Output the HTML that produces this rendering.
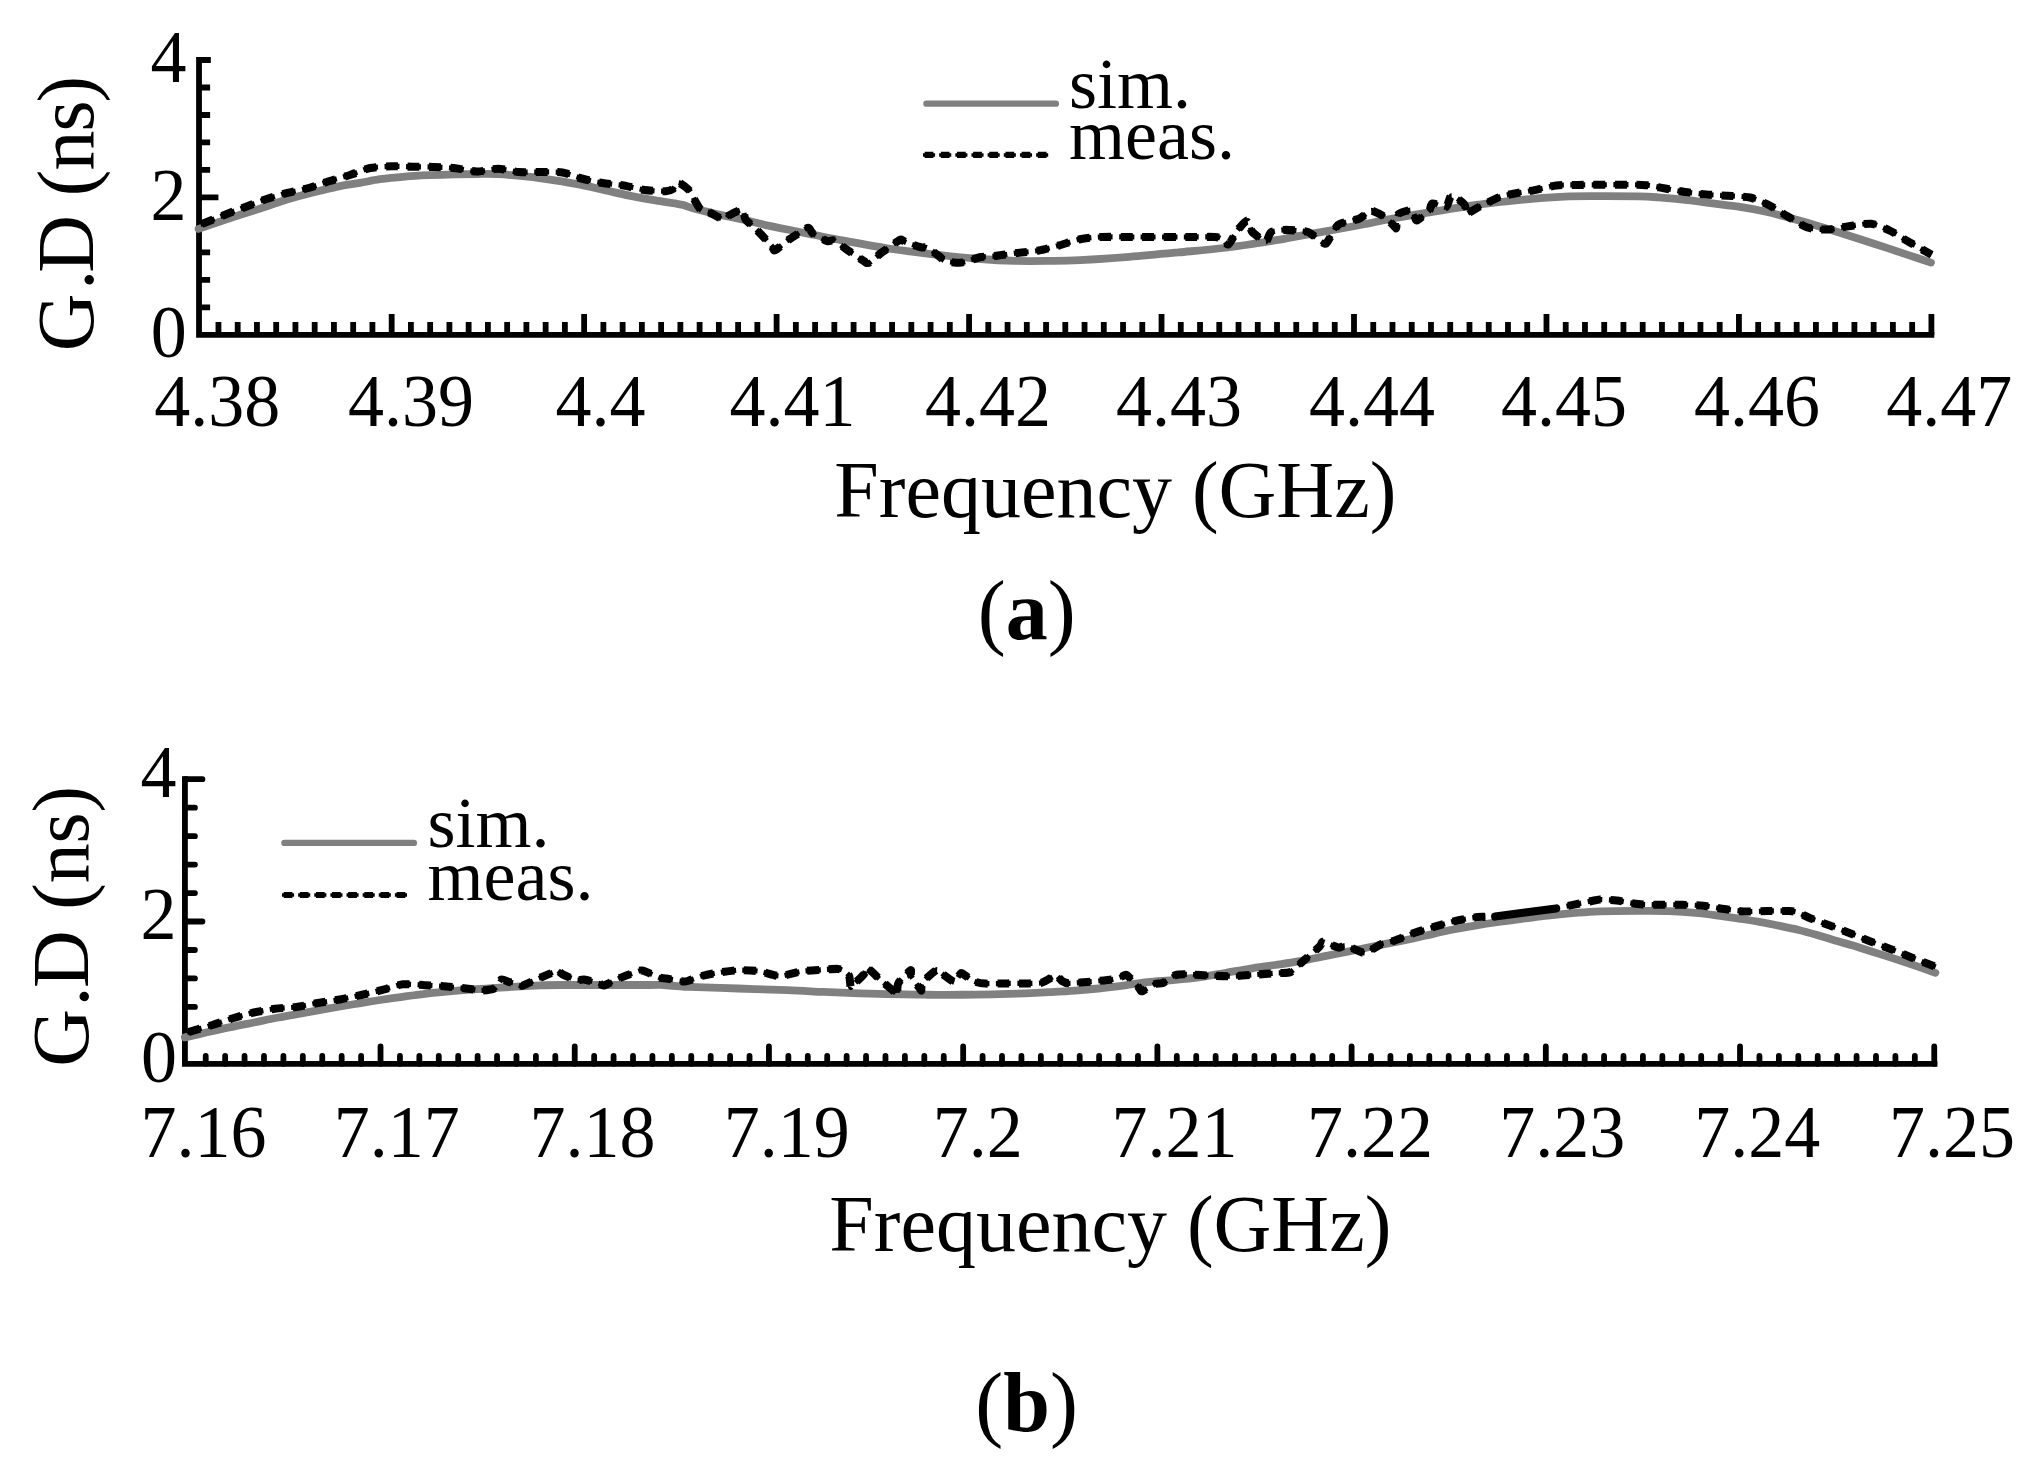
<!DOCTYPE html>
<html lang="en"><head><meta charset="utf-8"><title>Group delay: simulated vs measured</title>
<style>
html,body{margin:0;padding:0;background:#fff;}
body{width:2033px;height:1459px;overflow:hidden;}
svg{display:block;}
text{font-family:"Liberation Serif",serif;fill:#000;}
.t72{font-size:72px;}
.t80{font-size:80px;}
.t84{font-size:84px;}
.gray{stroke:#808080;stroke-width:7.8;fill:none;stroke-linecap:round;stroke-linejoin:round;}
.dotb{stroke:#000;fill:none;stroke-linecap:butt;stroke-linejoin:round;}
.dotsolid{stroke:#000;stroke-width:8.05;fill:none;stroke-linecap:round;stroke-linejoin:round;}
.lgray{stroke:#808080;stroke-width:6.3;fill:none;stroke-linecap:round;}
</style></head><body>
<svg width="2033" height="1459" viewBox="0 0 2033 1459">
<rect x="0" y="0" width="2033" height="1459" fill="#fff"/>
<g>
<path d="M199.02,57.10 V334.90 H1934.30" stroke="#000" stroke-width="5.80" fill="none" stroke-linejoin="miter"/>
<path d="M218.45,334.90 V322.00 M237.69,334.90 V322.00 M256.94,334.90 V322.00 M276.19,334.90 V322.00 M295.43,334.90 V322.00 M314.68,334.90 V322.00 M333.93,334.90 V322.00 M353.17,334.90 V322.00 M372.42,334.90 V322.00 M391.67,334.90 V313.95 M410.91,334.90 V322.00 M430.16,334.90 V322.00 M449.41,334.90 V322.00 M468.65,334.90 V322.00 M487.90,334.90 V322.00 M507.15,334.90 V322.00 M526.39,334.90 V322.00 M545.64,334.90 V322.00 M564.89,334.90 V322.00 M584.13,334.90 V313.95 M603.38,334.90 V322.00 M622.63,334.90 V322.00 M641.87,334.90 V322.00 M661.12,334.90 V322.00 M680.37,334.90 V322.00 M699.61,334.90 V322.00 M718.86,334.90 V322.00 M738.11,334.90 V322.00 M757.35,334.90 V322.00 M776.60,334.90 V313.95 M795.85,334.90 V322.00 M815.09,334.90 V322.00 M834.34,334.90 V322.00 M853.59,334.90 V322.00 M872.83,334.90 V322.00 M892.08,334.90 V322.00 M911.33,334.90 V322.00 M930.57,334.90 V322.00 M949.82,334.90 V322.00 M969.07,334.90 V313.95 M988.31,334.90 V322.00 M1007.56,334.90 V322.00 M1026.81,334.90 V322.00 M1046.05,334.90 V322.00 M1065.30,334.90 V322.00 M1084.55,334.90 V322.00 M1103.79,334.90 V322.00 M1123.04,334.90 V322.00 M1142.29,334.90 V322.00 M1161.53,334.90 V313.95 M1180.78,334.90 V322.00 M1200.03,334.90 V322.00 M1219.27,334.90 V322.00 M1238.52,334.90 V322.00 M1257.77,334.90 V322.00 M1277.01,334.90 V322.00 M1296.26,334.90 V322.00 M1315.51,334.90 V322.00 M1334.75,334.90 V322.00 M1354.00,334.90 V313.95 M1373.25,334.90 V322.00 M1392.49,334.90 V322.00 M1411.74,334.90 V322.00 M1430.99,334.90 V322.00 M1450.23,334.90 V322.00 M1469.48,334.90 V322.00 M1488.73,334.90 V322.00 M1507.97,334.90 V322.00 M1527.22,334.90 V322.00 M1546.47,334.90 V313.95 M1565.71,334.90 V322.00 M1584.96,334.90 V322.00 M1604.21,334.90 V322.00 M1623.45,334.90 V322.00 M1642.70,334.90 V322.00 M1661.95,334.90 V322.00 M1681.19,334.90 V322.00 M1700.44,334.90 V322.00 M1719.69,334.90 V322.00 M1738.93,334.90 V313.95 M1758.18,334.90 V322.00 M1777.43,334.90 V322.00 M1796.67,334.90 V322.00 M1815.92,334.90 V322.00 M1835.17,334.90 V322.00 M1854.41,334.90 V322.00 M1873.66,334.90 V322.00 M1892.91,334.90 V322.00 M1912.15,334.90 V322.00 M1931.40,334.90 V313.95" stroke="#000" stroke-width="5.80" fill="none" stroke-linecap="butt"/>
<path d="M199.02,307.41 H210.12 M199.02,279.92 H210.12 M199.02,252.43 H210.12 M199.02,224.94 H210.12 M199.02,197.45 H218.42 M199.02,169.96 H210.12 M199.02,142.47 H210.12 M199.02,114.98 H210.12 M199.02,87.49 H210.12 M199.02,60.00 H210.82" stroke="#000" stroke-width="5.80" fill="none" stroke-linecap="butt"/>
<path class="gray" d="M198.60,228.90 C202.17,227.68 213.07,223.95 220.00,221.60 C226.93,219.25 233.53,216.97 240.20,214.80 C246.87,212.63 253.37,210.77 260.00,208.60 C266.63,206.43 273.44,203.88 280.00,201.80 C286.56,199.72 292.68,197.93 299.35,196.10 C306.02,194.27 313.23,192.45 320.00,190.80 C326.77,189.15 333.33,187.52 340.00,186.20 C346.67,184.88 353.33,184.07 360.00,182.90 C366.67,181.73 372.50,180.25 380.00,179.20 C387.50,178.15 396.83,177.27 405.00,176.60 C413.17,175.93 420.67,175.58 429.00,175.20 C437.33,174.82 446.83,174.50 455.00,174.30 C463.17,174.10 470.83,174.02 478.00,174.00 C485.17,173.98 489.73,173.77 498.00,174.20 C506.27,174.63 518.10,175.57 527.60,176.60 C537.10,177.63 546.27,179.05 555.00,180.40 C563.73,181.75 571.73,183.08 580.00,184.70 C588.27,186.32 596.40,188.28 604.60,190.10 C612.80,191.92 621.00,193.92 629.20,195.60 C637.40,197.28 645.60,198.78 653.80,200.20 C662.00,201.62 673.37,203.25 678.40,204.10 C683.43,204.95 680.82,204.38 684.00,205.30 C687.18,206.22 691.07,207.92 697.50,209.60 C703.93,211.28 715.52,213.85 722.60,215.40 C729.68,216.95 733.70,217.50 740.00,218.90 C746.30,220.30 752.07,221.95 760.40,223.80 C768.73,225.65 776.73,227.30 790.00,230.00 C803.27,232.70 823.33,236.88 840.00,240.00 C856.67,243.12 873.33,246.25 890.00,248.75 C906.67,251.25 925.42,253.33 940.00,255.00 C954.58,256.67 965.00,257.77 977.50,258.75 C990.00,259.73 1002.92,260.54 1015.00,260.90 C1027.08,261.26 1039.17,261.03 1050.00,260.90 C1060.83,260.77 1066.80,260.78 1080.00,260.10 C1093.20,259.42 1112.80,258.08 1129.20,256.80 C1145.60,255.52 1162.00,253.95 1178.40,252.40 C1194.80,250.85 1210.67,249.63 1227.60,247.50 C1244.53,245.37 1269.60,241.25 1280.00,239.60 C1290.40,237.95 1280.00,239.41 1290.00,237.60 C1300.00,235.79 1327.12,231.08 1340.00,228.75 C1352.88,226.42 1358.97,225.22 1367.30,223.60 C1375.63,221.97 1377.88,221.17 1390.00,219.00 C1402.12,216.83 1423.33,213.23 1440.00,210.60 C1456.67,207.97 1473.33,205.28 1490.00,203.20 C1506.67,201.12 1526.75,199.25 1540.00,198.10 C1553.25,196.95 1558.83,196.63 1569.50,196.30 C1580.17,195.97 1592.52,196.10 1604.00,196.10 C1615.48,196.10 1629.40,196.09 1638.40,196.30 C1647.40,196.51 1649.80,196.72 1658.00,197.35 C1666.20,197.98 1678.52,199.09 1687.60,200.10 C1696.68,201.11 1703.77,202.27 1712.50,203.40 C1721.23,204.53 1731.25,205.55 1740.00,206.90 C1748.75,208.25 1756.80,209.70 1765.00,211.50 C1773.20,213.30 1781.20,215.53 1789.20,217.70 C1797.20,219.87 1804.80,222.07 1813.00,224.50 C1821.20,226.93 1830.15,229.72 1838.40,232.30 C1846.65,234.88 1854.30,237.37 1862.50,240.00 C1870.70,242.63 1879.68,245.50 1887.60,248.10 C1895.52,250.70 1902.77,253.18 1910.00,255.60 C1917.23,258.02 1927.50,261.43 1931.00,262.60"/>
<path class="dotb" style="stroke-width:5.2;stroke-dasharray:15.100 6.393" d="M200.50,224.50 C203.65,223.25 222.12,215.86 227.50,213.75 C232.88,211.64 242.05,208.12 246.60,206.40 C251.15,204.68 261.74,200.57 266.50,199.00 C271.26,197.43 282.49,194.18 287.40,192.90 C292.31,191.62 303.78,189.36 308.60,188.00 C313.42,186.64 323.92,182.77 328.75,181.25 C333.58,179.73 345.19,176.55 350.00,175.00 C354.81,173.45 365.19,169.02 370.00,168.00 C374.81,166.98 386.29,166.40 391.25,166.25 C396.21,166.10 407.54,166.66 412.50,166.75 C417.46,166.84 428.73,166.82 433.75,167.00 C438.77,167.18 450.45,167.71 455.50,168.25 C460.55,168.79 472.04,171.54 477.00,171.60 C481.96,171.66 493.13,168.70 498.00,168.75 C502.87,168.80 513.76,171.62 518.75,172.00 C523.74,172.38 535.65,171.94 540.75,172.00 C545.85,172.06 557.63,171.71 562.50,172.50 C567.37,173.29 577.83,177.53 582.50,178.75 C587.17,179.97 597.69,182.21 602.50,183.00 C607.31,183.79 618.85,184.68 623.75,185.50 C628.65,186.32 639.58,189.34 644.50,190.00 C649.42,190.66 662.57,191.32 665.90,191.20 C669.23,191.08 671.53,190.01 673.00,189.00 C674.47,187.99 676.52,182.27 678.50,182.50 C680.48,182.73 688.19,189.07 690.00,191.00 C691.81,192.93 692.72,196.78 694.00,199.00 C695.28,201.22 699.31,208.48 701.00,210.00 C702.69,211.52 706.17,211.01 708.50,212.00 C710.83,212.99 719.08,217.65 721.00,218.50 C722.92,219.35 724.02,219.69 725.00,219.30 C725.98,218.92 727.36,216.31 729.40,215.20 C731.44,214.09 740.62,209.32 742.50,209.80 C744.38,210.28 743.81,216.92 745.50,219.30 C747.19,221.68 754.00,227.17 757.00,230.20 C760.00,233.23 769.22,242.96 771.20,245.30 C773.18,247.65 773.38,249.82 774.00,250.30 C774.62,250.78 774.87,250.58 776.50,249.40 C778.13,248.22 784.52,242.64 788.00,240.20 C791.48,237.76 803.79,229.85 806.30,228.50 C808.81,227.15 808.72,228.00 809.50,228.60 C810.28,229.19 810.92,232.14 813.00,233.60 C815.08,235.06 824.85,240.31 827.30,241.10 C829.75,241.89 831.76,239.43 834.00,240.40 C836.24,241.37 843.00,246.97 846.50,249.40 C850.00,251.83 861.61,259.61 864.00,261.20 C866.39,262.79 866.25,262.91 867.00,263.00 C867.75,263.09 868.64,263.25 870.40,262.00 C872.16,260.75 878.74,254.84 882.10,252.30 C885.46,249.76 896.82,241.60 899.20,240.20 C901.58,238.80 901.62,240.00 902.50,240.30 C903.38,240.60 904.52,241.98 906.70,242.80 C908.88,243.62 918.76,246.72 921.20,247.30 C923.64,247.88 925.39,246.67 927.60,247.80 C929.81,248.93 938.05,255.44 940.10,257.00 C942.15,258.56 942.95,260.52 945.20,261.20 C947.45,261.88 956.87,262.80 959.40,262.80 C961.93,262.80 964.37,261.88 966.90,261.20 C969.43,260.52 977.88,257.59 981.10,257.00 C984.32,256.41 990.40,256.57 994.50,256.10 C998.60,255.63 1011.09,253.65 1016.25,253.00 C1021.41,252.35 1033.79,251.38 1038.75,250.50 C1043.71,249.62 1053.94,246.81 1058.75,245.50 C1063.56,244.19 1075.04,240.24 1080.00,239.25 C1084.96,238.26 1094.25,237.26 1101.25,237.00 C1108.25,236.74 1129.65,237.00 1140.00,237.00 C1150.35,237.00 1181.25,237.00 1190.00,237.00 C1198.75,237.00 1211.27,236.77 1215.00,237.00 C1218.73,237.23 1220.42,238.14 1222.00,239.00 C1223.58,239.86 1226.68,245.43 1228.50,244.40 C1230.32,243.37 1235.36,232.99 1237.60,230.20 C1239.84,227.41 1246.00,220.30 1247.70,220.50 C1249.40,220.70 1250.25,229.50 1252.20,231.90 C1254.15,234.30 1262.67,240.10 1264.40,241.10 C1266.13,242.10 1266.22,241.54 1267.00,240.50 C1267.78,239.46 1269.06,233.44 1271.10,232.20 C1273.14,230.96 1281.28,230.08 1284.50,229.90 C1287.72,229.72 1295.96,230.45 1298.70,230.70 C1301.44,230.94 1306.48,231.57 1308.00,232.00 C1309.52,232.43 1309.76,233.05 1311.70,234.40 C1313.64,235.75 1322.71,242.82 1324.60,243.60 C1326.49,244.38 1326.59,242.95 1327.90,241.10 C1329.21,239.25 1334.42,229.71 1335.80,227.70 C1337.18,225.69 1337.69,224.78 1339.70,223.90 C1341.71,223.03 1350.67,220.83 1353.00,220.20 C1355.33,219.57 1357.74,219.57 1359.70,218.50 C1361.66,217.43 1368.25,211.88 1369.80,211.00 C1371.35,210.12 1371.25,210.30 1373.00,211.00 C1374.75,211.70 1382.24,215.15 1384.80,217.00 C1387.36,218.85 1393.56,225.68 1394.90,226.90 C1396.24,228.12 1395.97,228.91 1396.30,227.50 C1396.63,226.09 1395.91,216.83 1397.70,214.80 C1399.49,212.77 1409.46,209.49 1411.60,210.10 C1413.73,210.71 1415.16,218.93 1416.00,220.00 C1416.84,221.07 1417.27,220.35 1418.80,219.30 C1420.33,218.25 1427.50,212.84 1429.10,211.00 C1430.70,209.16 1430.53,203.96 1432.50,203.50 C1434.47,203.04 1443.78,208.01 1446.00,207.10 C1448.22,206.19 1449.37,196.03 1451.50,195.70 C1453.63,195.37 1462.57,202.17 1464.30,204.30 C1466.03,206.44 1465.91,212.93 1466.30,214.00 C1466.68,215.07 1465.92,214.43 1467.60,213.50 C1469.28,212.57 1476.90,207.95 1480.70,206.00 C1484.50,204.05 1496.36,198.24 1500.20,196.80 C1504.04,195.37 1509.60,194.48 1513.60,193.70 C1517.60,192.92 1529.52,191.06 1534.50,190.10 C1539.48,189.14 1551.23,186.11 1556.25,185.50 C1561.27,184.89 1567.44,184.97 1577.50,184.90 C1587.56,184.83 1632.44,184.51 1642.50,184.90 C1652.56,185.29 1658.79,187.42 1663.75,188.25 C1668.71,189.08 1680.04,191.27 1685.00,192.00 C1689.96,192.73 1701.29,194.06 1706.25,194.50 C1711.21,194.94 1722.40,195.40 1727.50,195.75 C1732.60,196.10 1745.19,196.42 1750.00,197.50 C1754.81,198.58 1764.38,202.81 1768.75,205.00 C1773.12,207.19 1782.98,213.62 1787.50,216.25 C1792.02,218.88 1802.83,225.95 1807.50,227.50 C1812.17,229.05 1822.69,229.65 1827.50,229.50 C1832.31,229.35 1843.65,226.92 1848.75,226.25 C1853.85,225.58 1866.38,223.20 1871.25,223.75 C1876.12,224.30 1886.10,228.87 1890.50,231.00 C1894.90,233.13 1904.20,239.22 1909.00,242.00 C1913.80,244.78 1928.96,253.31 1931.60,254.80"/>
<path class="dotb" style="stroke-width:8.05;stroke-dasharray:11.900 9.593;stroke-dashoffset:-1.600" d="M200.50,224.50 C203.65,223.25 222.12,215.86 227.50,213.75 C232.88,211.64 242.05,208.12 246.60,206.40 C251.15,204.68 261.74,200.57 266.50,199.00 C271.26,197.43 282.49,194.18 287.40,192.90 C292.31,191.62 303.78,189.36 308.60,188.00 C313.42,186.64 323.92,182.77 328.75,181.25 C333.58,179.73 345.19,176.55 350.00,175.00 C354.81,173.45 365.19,169.02 370.00,168.00 C374.81,166.98 386.29,166.40 391.25,166.25 C396.21,166.10 407.54,166.66 412.50,166.75 C417.46,166.84 428.73,166.82 433.75,167.00 C438.77,167.18 450.45,167.71 455.50,168.25 C460.55,168.79 472.04,171.54 477.00,171.60 C481.96,171.66 493.13,168.70 498.00,168.75 C502.87,168.80 513.76,171.62 518.75,172.00 C523.74,172.38 535.65,171.94 540.75,172.00 C545.85,172.06 557.63,171.71 562.50,172.50 C567.37,173.29 577.83,177.53 582.50,178.75 C587.17,179.97 597.69,182.21 602.50,183.00 C607.31,183.79 618.85,184.68 623.75,185.50 C628.65,186.32 639.58,189.34 644.50,190.00 C649.42,190.66 662.57,191.32 665.90,191.20 C669.23,191.08 671.53,190.01 673.00,189.00 C674.47,187.99 676.52,182.27 678.50,182.50 C680.48,182.73 688.19,189.07 690.00,191.00 C691.81,192.93 692.72,196.78 694.00,199.00 C695.28,201.22 699.31,208.48 701.00,210.00 C702.69,211.52 706.17,211.01 708.50,212.00 C710.83,212.99 719.08,217.65 721.00,218.50 C722.92,219.35 724.02,219.69 725.00,219.30 C725.98,218.92 727.36,216.31 729.40,215.20 C731.44,214.09 740.62,209.32 742.50,209.80 C744.38,210.28 743.81,216.92 745.50,219.30 C747.19,221.68 754.00,227.17 757.00,230.20 C760.00,233.23 769.22,242.96 771.20,245.30 C773.18,247.65 773.38,249.82 774.00,250.30 C774.62,250.78 774.87,250.58 776.50,249.40 C778.13,248.22 784.52,242.64 788.00,240.20 C791.48,237.76 803.79,229.85 806.30,228.50 C808.81,227.15 808.72,228.00 809.50,228.60 C810.28,229.19 810.92,232.14 813.00,233.60 C815.08,235.06 824.85,240.31 827.30,241.10 C829.75,241.89 831.76,239.43 834.00,240.40 C836.24,241.37 843.00,246.97 846.50,249.40 C850.00,251.83 861.61,259.61 864.00,261.20 C866.39,262.79 866.25,262.91 867.00,263.00 C867.75,263.09 868.64,263.25 870.40,262.00 C872.16,260.75 878.74,254.84 882.10,252.30 C885.46,249.76 896.82,241.60 899.20,240.20 C901.58,238.80 901.62,240.00 902.50,240.30 C903.38,240.60 904.52,241.98 906.70,242.80 C908.88,243.62 918.76,246.72 921.20,247.30 C923.64,247.88 925.39,246.67 927.60,247.80 C929.81,248.93 938.05,255.44 940.10,257.00 C942.15,258.56 942.95,260.52 945.20,261.20 C947.45,261.88 956.87,262.80 959.40,262.80 C961.93,262.80 964.37,261.88 966.90,261.20 C969.43,260.52 977.88,257.59 981.10,257.00 C984.32,256.41 990.40,256.57 994.50,256.10 C998.60,255.63 1011.09,253.65 1016.25,253.00 C1021.41,252.35 1033.79,251.38 1038.75,250.50 C1043.71,249.62 1053.94,246.81 1058.75,245.50 C1063.56,244.19 1075.04,240.24 1080.00,239.25 C1084.96,238.26 1094.25,237.26 1101.25,237.00 C1108.25,236.74 1129.65,237.00 1140.00,237.00 C1150.35,237.00 1181.25,237.00 1190.00,237.00 C1198.75,237.00 1211.27,236.77 1215.00,237.00 C1218.73,237.23 1220.42,238.14 1222.00,239.00 C1223.58,239.86 1226.68,245.43 1228.50,244.40 C1230.32,243.37 1235.36,232.99 1237.60,230.20 C1239.84,227.41 1246.00,220.30 1247.70,220.50 C1249.40,220.70 1250.25,229.50 1252.20,231.90 C1254.15,234.30 1262.67,240.10 1264.40,241.10 C1266.13,242.10 1266.22,241.54 1267.00,240.50 C1267.78,239.46 1269.06,233.44 1271.10,232.20 C1273.14,230.96 1281.28,230.08 1284.50,229.90 C1287.72,229.72 1295.96,230.45 1298.70,230.70 C1301.44,230.94 1306.48,231.57 1308.00,232.00 C1309.52,232.43 1309.76,233.05 1311.70,234.40 C1313.64,235.75 1322.71,242.82 1324.60,243.60 C1326.49,244.38 1326.59,242.95 1327.90,241.10 C1329.21,239.25 1334.42,229.71 1335.80,227.70 C1337.18,225.69 1337.69,224.78 1339.70,223.90 C1341.71,223.03 1350.67,220.83 1353.00,220.20 C1355.33,219.57 1357.74,219.57 1359.70,218.50 C1361.66,217.43 1368.25,211.88 1369.80,211.00 C1371.35,210.12 1371.25,210.30 1373.00,211.00 C1374.75,211.70 1382.24,215.15 1384.80,217.00 C1387.36,218.85 1393.56,225.68 1394.90,226.90 C1396.24,228.12 1395.97,228.91 1396.30,227.50 C1396.63,226.09 1395.91,216.83 1397.70,214.80 C1399.49,212.77 1409.46,209.49 1411.60,210.10 C1413.73,210.71 1415.16,218.93 1416.00,220.00 C1416.84,221.07 1417.27,220.35 1418.80,219.30 C1420.33,218.25 1427.50,212.84 1429.10,211.00 C1430.70,209.16 1430.53,203.96 1432.50,203.50 C1434.47,203.04 1443.78,208.01 1446.00,207.10 C1448.22,206.19 1449.37,196.03 1451.50,195.70 C1453.63,195.37 1462.57,202.17 1464.30,204.30 C1466.03,206.44 1465.91,212.93 1466.30,214.00 C1466.68,215.07 1465.92,214.43 1467.60,213.50 C1469.28,212.57 1476.90,207.95 1480.70,206.00 C1484.50,204.05 1496.36,198.24 1500.20,196.80 C1504.04,195.37 1509.60,194.48 1513.60,193.70 C1517.60,192.92 1529.52,191.06 1534.50,190.10 C1539.48,189.14 1551.23,186.11 1556.25,185.50 C1561.27,184.89 1567.44,184.97 1577.50,184.90 C1587.56,184.83 1632.44,184.51 1642.50,184.90 C1652.56,185.29 1658.79,187.42 1663.75,188.25 C1668.71,189.08 1680.04,191.27 1685.00,192.00 C1689.96,192.73 1701.29,194.06 1706.25,194.50 C1711.21,194.94 1722.40,195.40 1727.50,195.75 C1732.60,196.10 1745.19,196.42 1750.00,197.50 C1754.81,198.58 1764.38,202.81 1768.75,205.00 C1773.12,207.19 1782.98,213.62 1787.50,216.25 C1792.02,218.88 1802.83,225.95 1807.50,227.50 C1812.17,229.05 1822.69,229.65 1827.50,229.50 C1832.31,229.35 1843.65,226.92 1848.75,226.25 C1853.85,225.58 1866.38,223.20 1871.25,223.75 C1876.12,224.30 1886.10,228.87 1890.50,231.00 C1894.90,233.13 1904.20,239.22 1909.00,242.00 C1913.80,244.78 1928.96,253.31 1931.60,254.80"/>
<text class="t72" transform="translate(168.40,81.70) scale(1,1.040)" text-anchor="middle">4</text>
<text class="t72" transform="translate(168.40,219.90) scale(1,1.040)" text-anchor="middle">2</text>
<text class="t72" transform="translate(168.80,356.70) scale(1,1.040)" text-anchor="middle">0</text>
<text class="t72" transform="translate(217.20,425.60) scale(1,1.040)" text-anchor="middle">4.38</text>
<text class="t72" transform="translate(411.00,425.60) scale(1,1.040)" text-anchor="middle">4.39</text>
<text class="t72" transform="translate(600.40,425.60) scale(1,1.040)" text-anchor="middle">4.4</text>
<text class="t72" transform="translate(792.50,425.60) scale(1,1.040)" text-anchor="middle">4.41</text>
<text class="t72" transform="translate(988.00,425.60) scale(1,1.040)" text-anchor="middle">4.42</text>
<text class="t72" transform="translate(1179.00,425.60) scale(1,1.040)" text-anchor="middle">4.43</text>
<text class="t72" transform="translate(1372.00,425.60) scale(1,1.040)" text-anchor="middle">4.44</text>
<text class="t72" transform="translate(1564.00,425.60) scale(1,1.040)" text-anchor="middle">4.45</text>
<text class="t72" transform="translate(1757.00,425.60) scale(1,1.040)" text-anchor="middle">4.46</text>
<text class="t72" transform="translate(1949.20,425.60) scale(1,1.040)" text-anchor="middle">4.47</text>
<text class="t80" x="1115.30" y="516.50" text-anchor="middle">Frequency (GHz)</text>
<text class="t80" transform="translate(92.50,213.70) rotate(-90)" x="-137.46 -76.00 -59.10 -1.94 17.56 43.20 82.20 111.32">G.D (ns)</text>
<path class="lgray" d="M926.40,103.70 H1055.90"/>
<path class="dotb" style="stroke-width:3.6;stroke-dasharray:12.100 4.057" d="M923.00,154.95 H1048.20"/>
<path class="dotb" style="stroke-width:6.2;stroke-dasharray:8.700 7.457;stroke-dashoffset:-1.700" d="M923.00,154.95 H1048.20"/>
<text class="t72" x="1069.00" y="107.90">sim.</text>
<text class="t72" x="1069.00" y="159.00">meas.</text>
<text class="t84" x="1026.70" y="639.40" text-anchor="middle">(<tspan font-weight="bold">a</tspan>)</text>
</g>
<g>
<path d="M184.93,776.30 V1063.83 H1937.40" stroke="#000" stroke-width="5.80" fill="none" stroke-linejoin="miter"/>
<path d="M205.72,1063.83 V1055.93 M225.14,1063.83 V1055.93 M244.56,1063.83 V1055.93 M263.99,1063.83 V1055.93 M283.41,1063.83 V1055.93 M302.83,1063.83 V1055.93 M322.25,1063.83 V1055.93 M341.67,1063.83 V1055.93 M361.10,1063.83 V1055.93 M380.52,1063.83 V1046.43 M399.94,1063.83 V1055.93 M419.36,1063.83 V1055.93 M438.78,1063.83 V1055.93 M458.20,1063.83 V1055.93 M477.62,1063.83 V1055.93 M497.05,1063.83 V1055.93 M516.47,1063.83 V1055.93 M535.89,1063.83 V1055.93 M555.31,1063.83 V1055.93 M574.73,1063.83 V1046.43 M594.15,1063.83 V1055.93 M613.58,1063.83 V1055.93 M633.00,1063.83 V1055.93 M652.42,1063.83 V1055.93 M671.84,1063.83 V1055.93 M691.26,1063.83 V1055.93 M710.68,1063.83 V1055.93 M730.11,1063.83 V1055.93 M749.53,1063.83 V1055.93 M768.95,1063.83 V1046.43 M788.37,1063.83 V1055.93 M807.79,1063.83 V1055.93 M827.21,1063.83 V1055.93 M846.64,1063.83 V1055.93 M866.06,1063.83 V1055.93 M885.48,1063.83 V1055.93 M904.90,1063.83 V1055.93 M924.32,1063.83 V1055.93 M943.75,1063.83 V1055.93 M963.17,1063.83 V1046.43 M982.59,1063.83 V1055.93 M1002.01,1063.83 V1055.93 M1021.43,1063.83 V1055.93 M1040.85,1063.83 V1055.93 M1060.28,1063.83 V1055.93 M1079.70,1063.83 V1055.93 M1099.12,1063.83 V1055.93 M1118.54,1063.83 V1055.93 M1137.96,1063.83 V1055.93 M1157.38,1063.83 V1046.43 M1176.81,1063.83 V1055.93 M1196.23,1063.83 V1055.93 M1215.65,1063.83 V1055.93 M1235.07,1063.83 V1055.93 M1254.49,1063.83 V1055.93 M1273.91,1063.83 V1055.93 M1293.34,1063.83 V1055.93 M1312.76,1063.83 V1055.93 M1332.18,1063.83 V1055.93 M1351.60,1063.83 V1046.43 M1371.02,1063.83 V1055.93 M1390.44,1063.83 V1055.93 M1409.87,1063.83 V1055.93 M1429.29,1063.83 V1055.93 M1448.71,1063.83 V1055.93 M1468.13,1063.83 V1055.93 M1487.55,1063.83 V1055.93 M1506.97,1063.83 V1055.93 M1526.39,1063.83 V1055.93 M1545.82,1063.83 V1046.43 M1565.24,1063.83 V1055.93 M1584.66,1063.83 V1055.93 M1604.08,1063.83 V1055.93 M1623.50,1063.83 V1055.93 M1642.92,1063.83 V1055.93 M1662.35,1063.83 V1055.93 M1681.77,1063.83 V1055.93 M1701.19,1063.83 V1055.93 M1720.61,1063.83 V1055.93 M1740.03,1063.83 V1046.43 M1759.45,1063.83 V1055.93 M1778.88,1063.83 V1055.93 M1798.30,1063.83 V1055.93 M1817.72,1063.83 V1055.93 M1837.14,1063.83 V1055.93 M1856.56,1063.83 V1055.93 M1875.98,1063.83 V1055.93 M1895.41,1063.83 V1055.93 M1914.83,1063.83 V1055.93 M1934.25,1063.83 V1046.43" stroke="#000" stroke-width="5.80" fill="none" stroke-linecap="round"/>
<path d="M184.93,1035.37 H194.93 M184.93,1006.90 H194.93 M184.93,978.44 H194.93 M184.93,949.98 H194.93 M184.93,921.51 H202.43 M184.93,893.05 H194.93 M184.93,864.59 H194.93 M184.93,836.13 H194.93 M184.93,807.66 H194.93 M184.93,779.20 H202.43" stroke="#000" stroke-width="5.80" fill="none" stroke-linecap="round"/>
<path class="gray" d="M184.90,1037.40 C188.25,1036.63 197.62,1034.47 205.00,1032.80 C212.38,1031.13 220.87,1029.17 229.20,1027.40 C237.53,1025.63 246.80,1023.85 255.00,1022.20 C263.20,1020.55 270.90,1018.93 278.40,1017.50 C285.90,1016.07 291.80,1015.07 300.00,1013.60 C308.20,1012.13 318.43,1010.30 327.60,1008.70 C336.77,1007.10 346.27,1005.45 355.00,1004.00 C363.73,1002.55 368.33,1001.68 380.00,1000.00 C391.67,998.32 411.07,995.53 425.00,993.90 C438.93,992.27 451.10,991.25 463.60,990.20 C476.10,989.15 489.77,988.28 500.00,987.60 C510.23,986.92 518.23,986.48 525.00,986.10 C531.77,985.72 534.77,985.48 540.60,985.30 C546.43,985.12 550.10,985.05 560.00,985.00 C569.90,984.95 585.00,985.00 600.00,985.00 C615.00,985.00 639.33,985.00 650.00,985.00 C660.67,985.00 658.58,984.73 664.00,985.00 C669.42,985.27 678.35,986.28 682.50,986.60 C686.65,986.92 679.65,986.58 688.90,986.90 C698.15,987.22 721.62,987.95 738.00,988.50 C754.38,989.05 773.53,989.65 787.20,990.20 C800.87,990.75 812.95,991.48 820.00,991.80 C827.05,992.12 819.72,991.75 829.50,992.10 C839.28,992.45 862.78,993.47 878.70,993.90 C894.62,994.33 913.52,994.53 925.00,994.70 C936.48,994.87 939.27,994.92 947.60,994.90 C955.93,994.88 966.27,994.72 975.00,994.60 C983.73,994.48 991.67,994.40 1000.00,994.20 C1008.33,994.00 1016.80,993.73 1025.00,993.40 C1033.20,993.07 1040.87,992.67 1049.20,992.20 C1057.53,991.73 1066.80,991.22 1075.00,990.60 C1083.20,989.98 1090.07,989.38 1098.40,988.50 C1106.73,987.62 1116.80,986.37 1125.00,985.30 C1133.20,984.23 1139.27,983.00 1147.60,982.10 C1155.93,981.20 1166.27,980.73 1175.00,979.90 C1183.73,979.07 1191.67,978.25 1200.00,977.10 C1208.33,975.95 1216.80,974.38 1225.00,973.00 C1233.20,971.62 1240.87,970.13 1249.20,968.80 C1257.53,967.47 1266.80,966.23 1275.00,965.00 C1283.20,963.77 1290.07,962.87 1298.40,961.40 C1306.73,959.93 1316.80,957.83 1325.00,956.20 C1333.20,954.57 1339.27,953.30 1347.60,951.60 C1355.93,949.90 1368.45,947.32 1375.00,946.00 C1381.55,944.68 1381.10,944.83 1386.90,943.70 C1392.70,942.57 1403.45,940.52 1409.80,939.20 C1416.15,937.88 1418.43,937.28 1425.00,935.80 C1431.57,934.32 1440.87,932.00 1449.20,930.30 C1457.53,928.60 1466.80,926.98 1475.00,925.60 C1483.20,924.22 1490.07,923.18 1498.40,922.00 C1506.73,920.82 1516.80,919.57 1525.00,918.50 C1533.20,917.43 1539.27,916.53 1547.60,915.60 C1555.93,914.67 1566.27,913.62 1575.00,912.90 C1583.73,912.18 1589.58,911.63 1600.00,911.30 C1610.42,910.97 1626.02,910.93 1637.50,910.90 C1648.98,910.87 1658.75,910.73 1668.90,911.10 C1679.05,911.47 1689.88,912.30 1698.40,913.10 C1706.92,913.90 1713.07,914.95 1720.00,915.90 C1726.93,916.85 1733.44,917.80 1740.00,918.80 C1746.56,919.80 1752.68,920.72 1759.35,921.90 C1766.02,923.08 1773.44,924.55 1780.00,925.90 C1786.56,927.25 1792.37,928.43 1798.70,930.00 C1805.03,931.57 1811.44,933.42 1818.00,935.30 C1824.56,937.18 1832.22,939.58 1838.05,941.30 C1843.88,943.02 1847.94,944.07 1853.00,945.60 C1858.06,947.13 1863.90,949.08 1868.40,950.50 C1872.90,951.92 1874.73,952.43 1880.00,954.10 C1885.27,955.77 1893.67,958.42 1900.00,960.50 C1906.33,962.58 1912.10,964.55 1918.00,966.60 C1923.90,968.65 1932.50,971.77 1935.40,972.80"/>
<path class="dotb" style="stroke-width:5.2;stroke-dasharray:15.100 6.386" d="M187.00,1032.50 C189.97,1031.62 207.05,1026.69 212.50,1025.00 C217.95,1023.31 228.94,1019.46 233.75,1018.00 C238.56,1016.54 248.94,1013.58 253.75,1012.50 C258.56,1011.42 270.04,1009.39 275.00,1008.75 C279.96,1008.11 291.23,1007.67 296.25,1007.00 C301.27,1006.33 312.90,1003.88 318.00,1003.00 C323.10,1002.12 334.95,1000.43 340.00,999.50 C345.05,998.57 356.20,996.14 361.25,995.00 C366.30,993.86 378.42,990.95 383.30,989.70 C388.18,988.45 398.26,984.82 403.10,984.30 C407.94,983.77 419.73,984.94 424.80,985.20 C429.88,985.46 441.55,986.08 446.60,986.50 C451.65,986.92 464.20,988.34 468.10,988.80 C472.00,989.25 477.56,990.28 480.00,990.40 C482.44,990.52 487.13,990.14 489.00,989.80 C490.87,989.46 494.54,988.70 496.00,987.50 C497.46,986.30 500.05,980.16 501.50,979.50 C502.95,978.84 506.77,981.34 508.40,981.80 C510.03,982.25 514.26,982.99 515.50,983.40 C516.74,983.81 518.12,985.05 519.00,985.30 C519.88,985.54 520.93,986.20 523.00,985.50 C525.07,984.80 534.41,980.31 536.70,979.30 C538.99,978.28 540.30,977.78 542.60,976.80 C544.90,975.82 554.60,971.62 556.40,970.90 C558.20,970.18 557.28,970.20 558.00,970.60 C558.72,971.00 560.44,973.19 562.60,974.30 C564.76,975.41 574.00,979.49 576.50,980.10 C579.00,980.71 581.46,979.14 584.00,979.50 C586.54,979.86 596.20,982.56 598.30,983.20 C600.40,983.84 601.22,984.77 602.00,985.00 C602.78,985.23 603.04,985.96 605.00,985.20 C606.96,984.44 616.47,979.57 618.80,978.50 C621.13,977.43 622.62,976.89 625.00,976.00 C627.38,975.11 637.22,971.53 639.20,970.90 C641.18,970.27 641.21,970.50 642.00,970.60 C642.79,970.71 643.95,970.98 646.00,971.80 C648.05,972.62 657.23,976.82 659.60,977.60 C661.97,978.38 663.84,978.10 666.30,978.50 C668.76,978.90 678.75,980.66 680.70,981.00 C682.65,981.34 682.18,981.40 683.00,981.40 C683.82,981.40 685.48,981.63 687.70,981.00 C689.92,980.37 698.71,976.93 702.00,976.00 C705.29,975.07 711.75,973.68 715.90,973.00 C720.05,972.32 732.58,970.41 737.60,970.20 C742.62,969.99 753.97,970.51 758.90,971.20 C763.83,971.89 774.99,976.08 779.90,976.10 C784.81,976.12 796.04,972.13 801.00,971.40 C805.96,970.66 818.10,970.09 822.40,969.80 C826.70,969.51 835.32,968.74 837.90,968.90 C840.48,969.06 843.18,970.35 844.50,971.20 C845.82,972.05 848.49,974.36 849.20,976.20 C849.91,978.04 850.27,985.88 850.60,987.00 C850.93,988.12 850.50,987.22 852.00,985.80 C853.50,984.38 861.80,976.95 863.50,974.80 C865.20,972.65 866.05,968.17 866.60,967.40 C867.15,966.63 866.56,966.71 868.20,968.20 C869.85,969.69 877.35,977.20 880.70,980.20 C884.05,983.20 894.96,992.22 896.90,993.90 C898.84,995.58 897.12,995.86 897.30,994.60 C897.47,993.34 896.86,985.95 898.40,983.10 C899.94,980.25 909.01,971.03 910.50,970.20 C911.99,969.37 910.03,973.75 911.20,976.00 C912.37,978.25 919.32,987.87 920.50,989.50 C921.68,991.13 921.07,990.86 921.30,990.00 C921.53,989.14 920.81,984.40 922.50,982.10 C924.19,979.80 934.01,971.71 935.80,970.30 C937.58,968.89 937.34,969.83 937.80,970.00 C938.25,970.17 937.99,970.49 939.70,971.80 C941.42,973.11 950.72,980.01 952.50,981.20 C954.28,982.39 954.08,982.86 955.00,982.00 C955.92,981.14 959.52,974.79 960.40,973.80 C961.27,972.81 960.96,972.64 962.50,973.50 C964.04,974.36 970.93,980.02 973.60,981.20 C976.27,982.38 981.46,983.34 985.40,983.60 C989.34,983.86 1002.31,983.42 1007.40,983.40 C1012.49,983.38 1025.20,983.45 1029.00,983.40 C1032.80,983.35 1038.33,983.16 1040.00,983.00 C1041.67,982.84 1041.54,982.86 1043.30,982.00 C1045.06,981.14 1053.50,976.35 1055.10,975.60 C1056.70,974.85 1056.19,974.97 1057.00,975.60 C1057.81,976.23 1060.61,980.10 1062.00,981.00 C1063.39,981.90 1065.58,983.22 1068.90,983.30 C1072.23,983.38 1085.46,982.14 1090.50,981.70 C1095.54,981.26 1108.42,980.11 1112.10,979.50 C1115.77,978.89 1120.27,977.01 1122.00,976.50 C1123.73,975.99 1125.01,973.89 1126.90,975.10 C1128.79,976.31 1136.56,985.04 1138.20,986.90 C1139.85,988.75 1140.43,990.54 1141.00,991.00 C1141.57,991.46 1141.42,991.63 1143.10,990.80 C1144.78,989.97 1153.10,984.81 1155.40,983.90 C1157.70,982.99 1160.44,984.03 1162.80,983.00 C1165.16,981.97 1172.50,976.10 1175.60,975.10 C1178.70,974.10 1185.24,974.33 1189.40,974.40 C1193.57,974.47 1206.21,975.49 1211.30,975.70 C1216.39,975.91 1227.95,976.32 1233.00,976.20 C1238.05,976.08 1249.52,975.07 1254.60,974.70 C1259.67,974.33 1272.37,973.29 1276.50,973.00 C1280.63,972.71 1286.93,973.55 1290.00,972.20 C1293.07,970.85 1300.85,963.06 1302.80,961.40 C1304.75,959.74 1304.75,959.73 1306.70,958.00 C1308.65,956.27 1317.71,948.43 1319.50,946.60 C1321.29,944.77 1321.43,942.81 1322.00,942.30 C1322.57,941.79 1322.45,941.58 1324.40,942.20 C1326.35,942.82 1336.23,947.20 1338.70,947.60 C1341.17,948.00 1343.13,945.13 1345.60,945.60 C1348.07,946.07 1357.75,950.74 1359.90,951.60 C1362.05,952.46 1363.15,952.89 1364.00,953.00 C1364.85,953.11 1365.22,953.53 1367.20,952.50 C1369.18,951.47 1377.84,945.58 1381.00,944.20 C1384.16,942.82 1390.38,942.03 1394.30,940.70 C1398.22,939.37 1409.78,934.47 1414.60,932.80 C1419.42,931.13 1430.70,927.81 1435.60,926.40 C1440.50,924.99 1451.69,921.79 1456.60,920.70 C1461.51,919.62 1474.35,917.54 1477.70,917.10 C1481.05,916.66 1484.41,916.92 1485.30,916.90"/>
<path class="dotb" style="stroke-width:8.05;stroke-dasharray:11.900 9.586;stroke-dashoffset:-1.600" d="M187.00,1032.50 C189.97,1031.62 207.05,1026.69 212.50,1025.00 C217.95,1023.31 228.94,1019.46 233.75,1018.00 C238.56,1016.54 248.94,1013.58 253.75,1012.50 C258.56,1011.42 270.04,1009.39 275.00,1008.75 C279.96,1008.11 291.23,1007.67 296.25,1007.00 C301.27,1006.33 312.90,1003.88 318.00,1003.00 C323.10,1002.12 334.95,1000.43 340.00,999.50 C345.05,998.57 356.20,996.14 361.25,995.00 C366.30,993.86 378.42,990.95 383.30,989.70 C388.18,988.45 398.26,984.82 403.10,984.30 C407.94,983.77 419.73,984.94 424.80,985.20 C429.88,985.46 441.55,986.08 446.60,986.50 C451.65,986.92 464.20,988.34 468.10,988.80 C472.00,989.25 477.56,990.28 480.00,990.40 C482.44,990.52 487.13,990.14 489.00,989.80 C490.87,989.46 494.54,988.70 496.00,987.50 C497.46,986.30 500.05,980.16 501.50,979.50 C502.95,978.84 506.77,981.34 508.40,981.80 C510.03,982.25 514.26,982.99 515.50,983.40 C516.74,983.81 518.12,985.05 519.00,985.30 C519.88,985.54 520.93,986.20 523.00,985.50 C525.07,984.80 534.41,980.31 536.70,979.30 C538.99,978.28 540.30,977.78 542.60,976.80 C544.90,975.82 554.60,971.62 556.40,970.90 C558.20,970.18 557.28,970.20 558.00,970.60 C558.72,971.00 560.44,973.19 562.60,974.30 C564.76,975.41 574.00,979.49 576.50,980.10 C579.00,980.71 581.46,979.14 584.00,979.50 C586.54,979.86 596.20,982.56 598.30,983.20 C600.40,983.84 601.22,984.77 602.00,985.00 C602.78,985.23 603.04,985.96 605.00,985.20 C606.96,984.44 616.47,979.57 618.80,978.50 C621.13,977.43 622.62,976.89 625.00,976.00 C627.38,975.11 637.22,971.53 639.20,970.90 C641.18,970.27 641.21,970.50 642.00,970.60 C642.79,970.71 643.95,970.98 646.00,971.80 C648.05,972.62 657.23,976.82 659.60,977.60 C661.97,978.38 663.84,978.10 666.30,978.50 C668.76,978.90 678.75,980.66 680.70,981.00 C682.65,981.34 682.18,981.40 683.00,981.40 C683.82,981.40 685.48,981.63 687.70,981.00 C689.92,980.37 698.71,976.93 702.00,976.00 C705.29,975.07 711.75,973.68 715.90,973.00 C720.05,972.32 732.58,970.41 737.60,970.20 C742.62,969.99 753.97,970.51 758.90,971.20 C763.83,971.89 774.99,976.08 779.90,976.10 C784.81,976.12 796.04,972.13 801.00,971.40 C805.96,970.66 818.10,970.09 822.40,969.80 C826.70,969.51 835.32,968.74 837.90,968.90 C840.48,969.06 843.18,970.35 844.50,971.20 C845.82,972.05 848.49,974.36 849.20,976.20 C849.91,978.04 850.27,985.88 850.60,987.00 C850.93,988.12 850.50,987.22 852.00,985.80 C853.50,984.38 861.80,976.95 863.50,974.80 C865.20,972.65 866.05,968.17 866.60,967.40 C867.15,966.63 866.56,966.71 868.20,968.20 C869.85,969.69 877.35,977.20 880.70,980.20 C884.05,983.20 894.96,992.22 896.90,993.90 C898.84,995.58 897.12,995.86 897.30,994.60 C897.47,993.34 896.86,985.95 898.40,983.10 C899.94,980.25 909.01,971.03 910.50,970.20 C911.99,969.37 910.03,973.75 911.20,976.00 C912.37,978.25 919.32,987.87 920.50,989.50 C921.68,991.13 921.07,990.86 921.30,990.00 C921.53,989.14 920.81,984.40 922.50,982.10 C924.19,979.80 934.01,971.71 935.80,970.30 C937.58,968.89 937.34,969.83 937.80,970.00 C938.25,970.17 937.99,970.49 939.70,971.80 C941.42,973.11 950.72,980.01 952.50,981.20 C954.28,982.39 954.08,982.86 955.00,982.00 C955.92,981.14 959.52,974.79 960.40,973.80 C961.27,972.81 960.96,972.64 962.50,973.50 C964.04,974.36 970.93,980.02 973.60,981.20 C976.27,982.38 981.46,983.34 985.40,983.60 C989.34,983.86 1002.31,983.42 1007.40,983.40 C1012.49,983.38 1025.20,983.45 1029.00,983.40 C1032.80,983.35 1038.33,983.16 1040.00,983.00 C1041.67,982.84 1041.54,982.86 1043.30,982.00 C1045.06,981.14 1053.50,976.35 1055.10,975.60 C1056.70,974.85 1056.19,974.97 1057.00,975.60 C1057.81,976.23 1060.61,980.10 1062.00,981.00 C1063.39,981.90 1065.58,983.22 1068.90,983.30 C1072.23,983.38 1085.46,982.14 1090.50,981.70 C1095.54,981.26 1108.42,980.11 1112.10,979.50 C1115.77,978.89 1120.27,977.01 1122.00,976.50 C1123.73,975.99 1125.01,973.89 1126.90,975.10 C1128.79,976.31 1136.56,985.04 1138.20,986.90 C1139.85,988.75 1140.43,990.54 1141.00,991.00 C1141.57,991.46 1141.42,991.63 1143.10,990.80 C1144.78,989.97 1153.10,984.81 1155.40,983.90 C1157.70,982.99 1160.44,984.03 1162.80,983.00 C1165.16,981.97 1172.50,976.10 1175.60,975.10 C1178.70,974.10 1185.24,974.33 1189.40,974.40 C1193.57,974.47 1206.21,975.49 1211.30,975.70 C1216.39,975.91 1227.95,976.32 1233.00,976.20 C1238.05,976.08 1249.52,975.07 1254.60,974.70 C1259.67,974.33 1272.37,973.29 1276.50,973.00 C1280.63,972.71 1286.93,973.55 1290.00,972.20 C1293.07,970.85 1300.85,963.06 1302.80,961.40 C1304.75,959.74 1304.75,959.73 1306.70,958.00 C1308.65,956.27 1317.71,948.43 1319.50,946.60 C1321.29,944.77 1321.43,942.81 1322.00,942.30 C1322.57,941.79 1322.45,941.58 1324.40,942.20 C1326.35,942.82 1336.23,947.20 1338.70,947.60 C1341.17,948.00 1343.13,945.13 1345.60,945.60 C1348.07,946.07 1357.75,950.74 1359.90,951.60 C1362.05,952.46 1363.15,952.89 1364.00,953.00 C1364.85,953.11 1365.22,953.53 1367.20,952.50 C1369.18,951.47 1377.84,945.58 1381.00,944.20 C1384.16,942.82 1390.38,942.03 1394.30,940.70 C1398.22,939.37 1409.78,934.47 1414.60,932.80 C1419.42,931.13 1430.70,927.81 1435.60,926.40 C1440.50,924.99 1451.69,921.79 1456.60,920.70 C1461.51,919.62 1474.35,917.54 1477.70,917.10 C1481.05,916.66 1484.41,916.92 1485.30,916.90"/>
<path class="dotsolid" d="M1495.10,916.60 L1525.00,912.60 L1556.20,908.40"/>
<path class="dotb" style="stroke-width:5.2;stroke-dasharray:15.100 6.433" d="M1566.50,906.20 C1567.39,906.01 1570.74,905.29 1574.10,904.60 C1577.46,903.91 1592.28,900.88 1595.30,900.30 C1598.32,899.72 1597.50,899.58 1600.00,899.60 C1602.50,899.62 1612.24,899.98 1616.70,900.50 C1621.16,901.02 1633.18,903.60 1638.20,904.10 C1643.22,904.60 1654.65,904.72 1659.70,904.80 C1664.75,904.88 1676.44,904.68 1681.50,904.80 C1686.56,904.92 1698.09,905.31 1703.10,905.80 C1708.11,906.29 1719.41,908.34 1724.40,909.00 C1729.39,909.66 1740.87,911.27 1745.90,911.50 C1750.93,911.73 1762.44,911.06 1767.50,911.00 C1772.56,910.94 1785.74,910.83 1789.30,911.00 C1792.86,911.17 1795.57,911.66 1798.00,912.50 C1800.43,913.34 1806.31,916.66 1810.10,918.20 C1813.89,919.74 1825.78,923.92 1830.50,925.70 C1835.22,927.49 1845.93,931.67 1850.60,933.50 C1855.27,935.33 1865.72,939.54 1870.50,941.40 C1875.28,943.25 1886.82,947.53 1891.60,949.40 C1896.38,951.27 1906.36,955.37 1911.50,957.40 C1916.64,959.43 1932.88,965.70 1935.70,966.80"/>
<path class="dotb" style="stroke-width:8.05;stroke-dasharray:11.900 9.633;stroke-dashoffset:-1.600" d="M1566.50,906.20 C1567.39,906.01 1570.74,905.29 1574.10,904.60 C1577.46,903.91 1592.28,900.88 1595.30,900.30 C1598.32,899.72 1597.50,899.58 1600.00,899.60 C1602.50,899.62 1612.24,899.98 1616.70,900.50 C1621.16,901.02 1633.18,903.60 1638.20,904.10 C1643.22,904.60 1654.65,904.72 1659.70,904.80 C1664.75,904.88 1676.44,904.68 1681.50,904.80 C1686.56,904.92 1698.09,905.31 1703.10,905.80 C1708.11,906.29 1719.41,908.34 1724.40,909.00 C1729.39,909.66 1740.87,911.27 1745.90,911.50 C1750.93,911.73 1762.44,911.06 1767.50,911.00 C1772.56,910.94 1785.74,910.83 1789.30,911.00 C1792.86,911.17 1795.57,911.66 1798.00,912.50 C1800.43,913.34 1806.31,916.66 1810.10,918.20 C1813.89,919.74 1825.78,923.92 1830.50,925.70 C1835.22,927.49 1845.93,931.67 1850.60,933.50 C1855.27,935.33 1865.72,939.54 1870.50,941.40 C1875.28,943.25 1886.82,947.53 1891.60,949.40 C1896.38,951.27 1906.36,955.37 1911.50,957.40 C1916.64,959.43 1932.88,965.70 1935.70,966.80"/>
<text class="t72" transform="translate(158.50,797.20) scale(1,1.040)" text-anchor="middle">4</text>
<text class="t72" transform="translate(158.50,939.40) scale(1,1.040)" text-anchor="middle">2</text>
<text class="t72" transform="translate(159.00,1081.60) scale(1,1.040)" text-anchor="middle">0</text>
<text class="t72" transform="translate(203.40,1157.30) scale(1,1.040)" text-anchor="middle">7.16</text>
<text class="t72" transform="translate(396.80,1157.30) scale(1,1.040)" text-anchor="middle">7.17</text>
<text class="t72" transform="translate(592.60,1157.30) scale(1,1.040)" text-anchor="middle">7.18</text>
<text class="t72" transform="translate(786.80,1157.30) scale(1,1.040)" text-anchor="middle">7.19</text>
<text class="t72" transform="translate(977.80,1157.30) scale(1,1.040)" text-anchor="middle">7.2</text>
<text class="t72" transform="translate(1174.50,1157.30) scale(1,1.040)" text-anchor="middle">7.21</text>
<text class="t72" transform="translate(1370.10,1157.30) scale(1,1.040)" text-anchor="middle">7.22</text>
<text class="t72" transform="translate(1562.20,1157.30) scale(1,1.040)" text-anchor="middle">7.23</text>
<text class="t72" transform="translate(1757.30,1157.30) scale(1,1.040)" text-anchor="middle">7.24</text>
<text class="t72" transform="translate(1952.00,1157.30) scale(1,1.040)" text-anchor="middle">7.25</text>
<text class="t80" x="1110.30" y="1250.60" text-anchor="middle">Frequency (GHz)</text>
<text class="t80" transform="translate(87.60,926.80) rotate(-90)" x="-139.96 -79.60 -61.20 -3.24 17.06 43.50 83.40 114.32">G.D (ns)</text>
<path class="lgray" d="M284.40,842.90 H413.90"/>
<path class="dotb" style="stroke-width:3.6;stroke-dasharray:12.100 4.029" d="M282.00,895.00 H407.00"/>
<path class="dotb" style="stroke-width:6.2;stroke-dasharray:8.700 7.429;stroke-dashoffset:-1.700" d="M282.00,895.00 H407.00"/>
<text class="t72" x="427.50" y="847.00">sim.</text>
<text class="t72" x="427.50" y="900.00">meas.</text>
<text class="t84" x="1026.70" y="1431.00" text-anchor="middle">(<tspan font-weight="bold">b</tspan>)</text>
</g>
</svg>
</body></html>
